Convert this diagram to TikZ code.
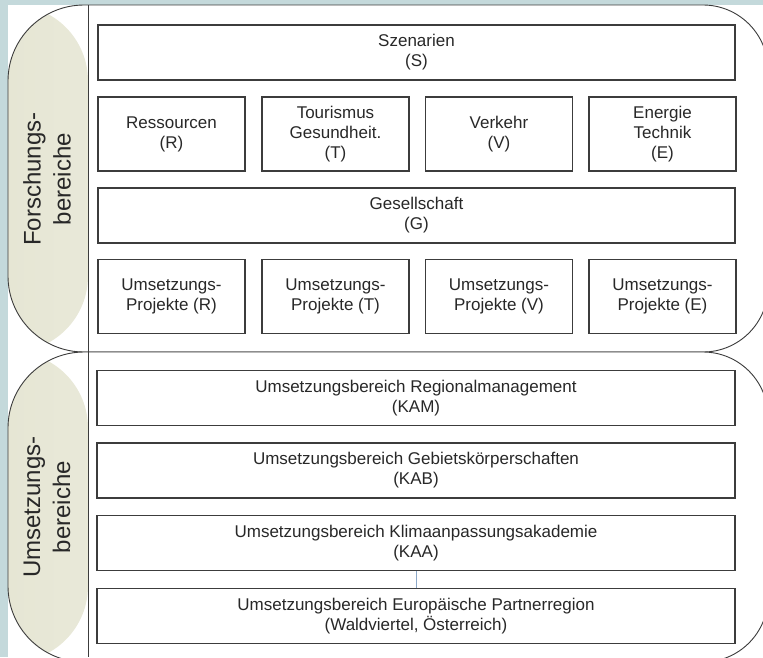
\documentclass[tikz,border=0pt]{standalone}
\usepackage{fontspec}
\setmainfont{Liberation Sans}
\usepackage{xcolor}
\usepackage{tikz}
\usetikzlibrary{positioning}

\definecolor{hintergrund}{RGB}{196,217,219}
\definecolor{linie}{RGB}{60,60,60}
\definecolor{schrift}{RGB}{40,40,40}
\definecolor{reiter}{RGB}{230,230,212}
\definecolor{verbinder}{RGB}{140,168,200}

\begin{document}
\begin{tikzpicture}[x=1pt,y=-1pt,
    feld/.style={draw=linie, line width=1.3pt, fill=white, text=schrift, align=center,
                 inner sep=0pt, font=\fontsize{17}{20}\selectfont},
    breit/.style={feld, minimum width=637pt, minimum height=55pt},
    klein/.style={feld, minimum width=147pt, minimum height=74pt},
    bereich/.style={draw=linie, line width=0.9pt, fill=white,
                    path picture={\shade[left color=reiter, right color=white]
                      (path picture bounding box.north west) rectangle
                      ([xshift=80pt]path picture bounding box.south west);}},
    reitertext/.style={rotate=90, align=center, text=schrift,
                       font=\fontsize{24}{30}\selectfont}]
    \useasboundingbox (0,0) rectangle (763,657);
    \clip (0,0) rectangle (763,657);
    \fill[hintergrund] (0,0) rectangle (763,657);
    \fill[white] (8,5) rectangle (763,657);

    % die beiden Bereiche
    \path[bereich] (420,5) [rounded corners=65pt] -- (768,5) -- (768,352) -- (420,352)
        [rounded corners=76pt] -- (8,352) -- (8,5) -- cycle;
    \path[bereich] (420,352) [rounded corners=65pt] -- (768,352) -- (768,662) -- (420,662)
        [rounded corners=76pt] -- (8,662) -- (8,352) -- cycle;
    \draw[linie, line width=0.9pt] (88,5) -- (88,657);

    \node [reitertext] (forschung) at (47,179) {Forschungs-\\bereiche};
    \node [reitertext] (umsetzung) at (47,507) {Umsetzungs-\\bereiche};

    % Forschungsbereiche
    \node [breit] (S) at (416.5,52.5) {Szenarien\\(S)};
    \node [klein] (R) at (171.5,134) {Ressourcen\\(R)};
    \node [klein] (T) at (335.5,134) {Tourismus\\Gesundheit.\\(T)};
    \node [klein] (V) at (499,134) {Verkehr\\(V)};
    \node [klein] (E) at (662.5,134) {Energie\\Technik\\(E)};
    \node [breit] (G) at (416.5,215.5) {Gesellschaft\\(G)};
    \node [klein] (UR) at (171.5,296.5) {Umsetzungs-\\Projekte (R)};
    \node [klein] (UT) at (335.5,296.5) {Umsetzungs-\\Projekte (T)};
    \node [klein] (UV) at (499,296.5) {Umsetzungs-\\Projekte (V)};
    \node [klein] (UE) at (662.5,296.5) {Umsetzungs-\\Projekte (E)};

    % Umsetzungsbereiche
    \node [breit, minimum width=638pt] (KAM) at (416,398) {Umsetzungsbereich Regionalmanagement\\(KAM)};
    \node [breit, minimum width=638pt] (KAB) at (416,470.5) {Umsetzungsbereich Gebietskörperschaften\\(KAB)};
    \node [breit, minimum width=638pt] (KAA) at (416,543) {Umsetzungsbereich Klimaanpassungsakademie\\(KAA)};
    \node [breit, minimum width=638pt] (KEP) at (416,616) {Umsetzungsbereich Europäische Partnerregion\\(Waldviertel, Österreich)};

    \draw[verbinder, line width=1pt] (KAA) -- (KEP);
\end{tikzpicture}
\end{document}
